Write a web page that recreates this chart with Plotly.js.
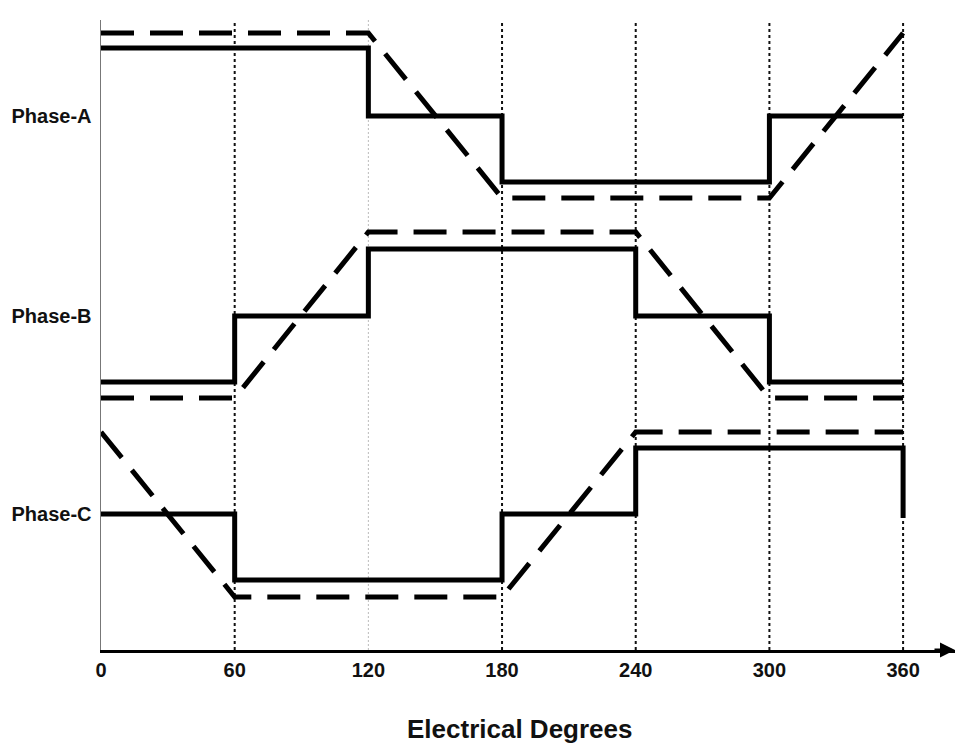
<!DOCTYPE html>
<html>
<head>
<meta charset="utf-8">
<script src="https://cdn.plot.ly/plotly-3.0.1.min.js"></script>
<style>html,body{margin:0;padding:0;background:#fff;}#chart{width:960px;height:748px;}</style>
</head>
<body>
<div id="chart"></div>
<script>
// Electrical degrees (x) and signal levels (y, chart units)
var xTicks = [0, 60, 120, 180, 240, 300, 360];
var gridX = [60, 120, 180, 240, 300, 360];
var phaseLabels = ["Phase-A", "Phase-B", "Phase-C"];
var phaseLabelY = [534, 334, 136];

// Phase-A
var aSolidX = [0, 120, 180, 300, 360];
var aSolidY = [602, 534, 468, 534, 534];
var aDashX = [0, 120, 180, 300, 360];
var aDashY = [617, 617, 452, 452, 617];
// Phase-B
var bSolidX = [0, 60, 120, 240, 300, 360];
var bSolidY = [268, 334, 401, 334, 268, 268];
var bDashX = [0, 60, 120, 240, 300, 360];
var bDashY = [252, 252, 418, 418, 252, 252];
// Phase-C
var cSolidX = [0, 60, 180, 240, 360, 360];
var cSolidY = [136, 70, 136, 202, 202, 132];
var cDashX = [0, 60, 180, 240, 360];
var cDashY = [218, 53, 53, 218, 218];

var traces = [];
gridX.forEach(function (gx) {
  var light = gx === 120;
  traces.push({
    x: [gx, gx], y: [0, 636], mode: 'lines', hoverinfo: 'skip', showlegend: false,
    line: {color: light ? '#bbbbbb' : '#111111', width: light ? 1 : 2, dash: light ? '2px,2px' : 'dot'}
  });
});
function solid(x, y) {
  return {x: x, y: y, mode: 'lines', showlegend: false, line: {color: '#000', width: 5, shape: 'hv'}};
}
function dashed(x, y) {
  return {x: x, y: y, mode: 'lines', showlegend: false, line: {color: '#000', width: 5, dash: '33px,16px'}};
}
traces.push(solid(aSolidX, aSolidY), dashed(aDashX, aDashY));
traces.push(solid(bSolidX, bSolidY), dashed(bDashX, bDashY));
traces.push(solid(cSolidX, cSolidY), dashed(cDashX, cDashY));

var layout = {
  width: 960, height: 748,
  margin: {l: 101, r: 5, t: 20, b: 98},
  paper_bgcolor: '#fff', plot_bgcolor: '#fff',
  showlegend: false,
  xaxis: {
    range: [0, 383.3], tickvals: xTicks, ticktext: xTicks.map(String),
    showgrid: false, zeroline: false, showline: true, linecolor: '#000', linewidth: 3,
    ticks: '', ticklabelstandoff: 0,
    tickfont: {family: 'Arial, Liberation Sans, sans-serif', size: 20, color: '#111', weight: 'bold'}
  },
  yaxis: {
    range: [0, 630], tickvals: phaseLabelY, ticktext: phaseLabels,
    showgrid: false, zeroline: false, showline: true, linecolor: '#777', linewidth: 1.5,
    ticks: '', ticklabelstandoff: 4,
    tickfont: {family: 'Arial, Liberation Sans, sans-serif', size: 20, color: '#111', weight: 'bold'}
  },
  annotations: [
    {x: 0, y: 633, xref: 'x', yref: 'y', ax: 0, ay: 22, text: '', showarrow: true,
     arrowhead: 2, arrowsize: 1, arrowwidth: 2, arrowcolor: '#000'},
    {x: 383.3, y: 0, xref: 'x', yref: 'y', ax: -22, ay: 0, text: '', showarrow: true,
     arrowhead: 2, arrowsize: 1, arrowwidth: 3, arrowcolor: '#000'},
    {x: 0.49, y: -0.125, xref: 'paper', yref: 'paper', yanchor: 'middle', showarrow: false,
     text: 'Electrical Degrees',
     font: {family: 'Arial, Liberation Sans, sans-serif', size: 26, color: '#111', weight: 'bold'}}
  ]
};
Plotly.newPlot('chart', traces, layout, {displayModeBar: false, staticPlot: true});
</script>
</body>
</html>
